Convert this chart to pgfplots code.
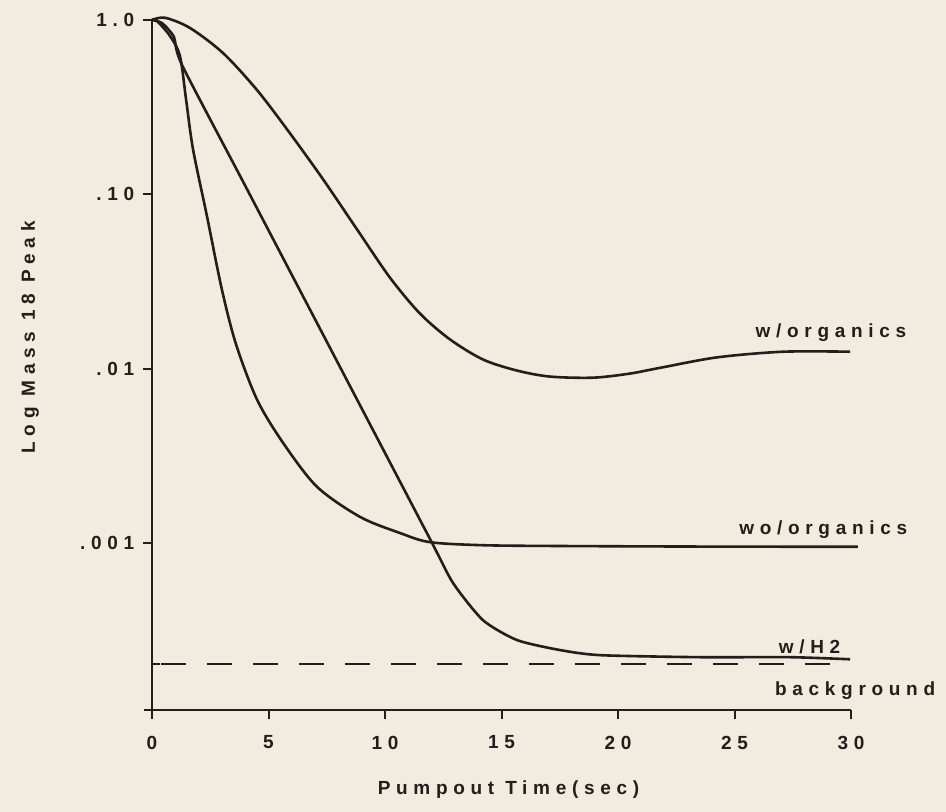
\documentclass[border=0pt]{standalone}
\usepackage{fontspec}
\setmainfont{Liberation Sans}[LetterSpace=30]
\usepackage{pgfplots}
\pgfplotsset{compat=1.18}
\definecolor{paper}{RGB}{240,236,223}
\definecolor{ink}{RGB}{38,28,28}
\begin{document}
\fontsize{9.5}{11}\selectfont\bfseries
\begin{tikzpicture}
\fill[paper] (-76pt,-51pt) rectangle (397pt,355pt);
\useasboundingbox (-76pt,-51pt) rectangle (397pt,355pt);
\begin{axis}[
  at={(0pt,0pt)}, anchor=south west,
  scale only axis, width=349.5pt, height=345pt,
  xmin=0, xmax=30, ymode=log, ymin=1.1e-4, ymax=1,
  /pgf/number format/assume math mode=true,
  axis lines=left,
  axis line style={-, ink, line width=1.2pt},
  x axis line style={shorten <=-4pt},
  xtick={0,5,10,15,20,25,30},
  ytick={1,0.1,0.01,0.001},
  yticklabels={1.0,.10,.01,.001},
  yminorticks=false, xminorticks=false,
  extra y ticks={2.02e-4}, extra y tick labels={},
  extra y tick style={tick align=inside, major tick length=4pt},
  tick align=outside, major tick length=4.5pt,
  tick style={ink, line width=1pt},
  ticklabel style={text=ink},
  xticklabel style={yshift=-5pt},
  yticklabel style={xshift=-1pt},
  xlabel={Pumpout Time(sec)},
  ylabel={Log Mass 18 Peak},
  label style={text=ink},
  xlabel style={at={(rel axis cs:0.51,0)}, anchor=center, yshift=-40pt},
  ylabel style={at={(rel axis cs:-0.1745,0.54)}, anchor=center},
  clip=false,
]
% w/organics
\addplot[ink, line width=1.3pt, smooth, tension=0.5] coordinates {(0,1.0)(0.56,1.03)(1.63,0.90)(3.05,0.646)(4.51,0.396)(5.92,0.224)(7.34,0.122)(8.80,0.0629)(10.21,0.0333)(11.50,0.0207)(12.79,0.0147)(14.21,0.01127)(15.67,0.00974)(17.08,0.0090)(18.93,0.00887)(20.5,0.00936)(21.8,0.0101)(24.25,0.0116)(27.08,0.0125)(29.96,0.0125)};
% w/H2
\addplot[ink, line width=1.3pt, smooth, tension=0.4] coordinates {(0,1.0)(0.43,0.96)(0.94,0.80)(1.29,0.551)(4,0.112)(8,0.01064)(11.93,0.001054)(12.92,0.000589)(14.21,0.00036)(15.67,0.000277)(17.5,0.000243)(19.23,0.000227)(23.5,0.000221)(27.4,0.000221)(29.96,0.000215)};
% wo/organics
\addplot[ink, line width=1.3pt, smooth, tension=0.5] coordinates {(0,1.0)(0.2,0.99)(0.77,0.81)(1.2,0.621)(1.46,0.352)(1.76,0.1815)(2.36,0.0748)(3.0,0.0284)(3.61,0.01374)(4.51,0.00663)(5.62,0.00376)(7.08,0.0021)(8.93,0.00141)(10.64,0.00114)(11.93,0.00101)(14.21,0.00097)(17.5,0.00096)(23.5,0.000953)(30.3,0.00095)};
% background
\addplot[ink, line width=1.3pt, dash pattern=on 12.5pt off 10.5pt] coordinates {(0.4,2.02e-4)(30,2.02e-4)};
\node[anchor=east, text=ink] at (axis cs:32.66,0.0161) {w/organics};
\node[anchor=east, text=ink] at (axis cs:32.7,0.00119) {wo/organics};
\node[anchor=east, text=ink] at (axis cs:29.83,2.52e-4) {w/H2};
\node[anchor=east, text=ink] at (axis cs:33.9,1.43e-4) {background};
\end{axis}
\end{tikzpicture}
\end{document}
